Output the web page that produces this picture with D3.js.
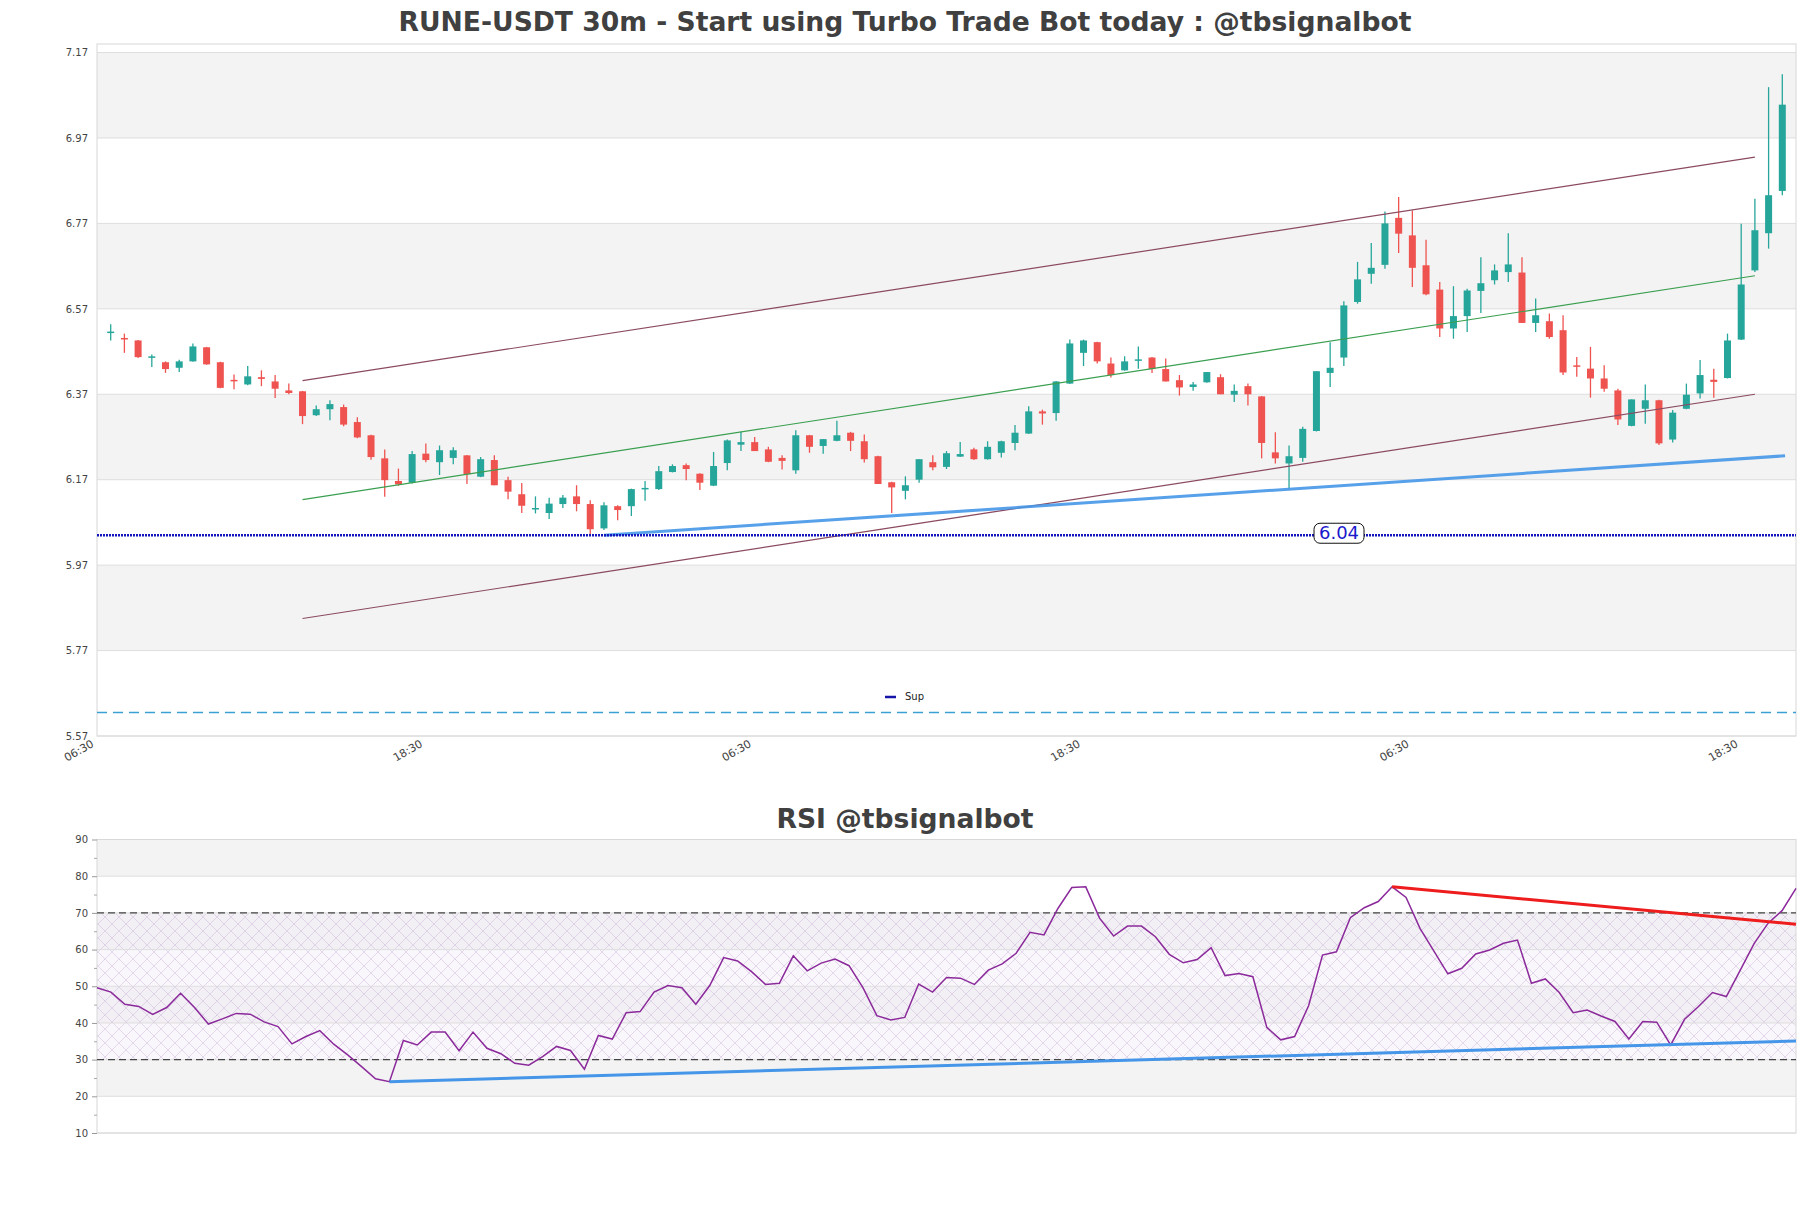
<!DOCTYPE html>
<html><head><meta charset="utf-8">
<script src="https://cdn.jsdelivr.net/npm/d3@7"></script>
<style>body{margin:0;background:#fff;} svg{display:block;font-family:"DejaVu Sans",sans-serif;}</style>
</head><body><svg id="c" width="1811" height="1208"></svg>
<script>
// ---------- DATA ----------
const opens  = [6.512,6.500,6.496,6.454,6.445,6.432,6.447,6.480,6.445,6.402,6.393,6.410,6.400,6.379,6.377,6.321,6.335,6.340,6.305,6.274,6.220,6.167,6.163,6.231,6.211,6.221,6.227,6.177,6.216,6.169,6.136,6.100,6.092,6.113,6.131,6.113,6.056,6.108,6.108,6.146,6.148,6.188,6.204,6.184,6.156,6.209,6.252,6.258,6.241,6.221,6.192,6.274,6.249,6.261,6.280,6.260,6.225,6.164,6.144,6.170,6.211,6.200,6.224,6.241,6.218,6.233,6.256,6.278,6.330,6.326,6.395,6.467,6.492,6.442,6.426,6.447,6.456,6.429,6.403,6.387,6.398,6.410,6.369,6.389,6.365,6.234,6.208,6.221,6.284,6.420,6.456,6.586,6.652,6.673,6.783,6.742,6.672,6.615,6.524,6.553,6.612,6.637,6.656,6.655,6.537,6.541,6.520,6.436,6.430,6.407,6.379,6.296,6.336,6.356,6.264,6.336,6.372,6.404,6.408,6.498,6.660,6.747,6.846];
const highs  = [6.534,6.512,6.497,6.463,6.447,6.451,6.489,6.481,6.446,6.416,6.436,6.426,6.415,6.395,6.378,6.344,6.356,6.346,6.316,6.275,6.241,6.196,6.237,6.255,6.250,6.246,6.228,6.223,6.227,6.177,6.162,6.131,6.128,6.134,6.157,6.122,6.117,6.110,6.149,6.167,6.202,6.206,6.208,6.185,6.235,6.264,6.282,6.270,6.247,6.227,6.286,6.275,6.265,6.308,6.282,6.276,6.226,6.165,6.178,6.218,6.227,6.237,6.258,6.245,6.260,6.261,6.298,6.342,6.334,6.401,6.498,6.498,6.493,6.456,6.459,6.482,6.457,6.454,6.415,6.399,6.422,6.417,6.393,6.395,6.366,6.281,6.250,6.294,6.424,6.492,6.588,6.680,6.724,6.798,6.832,6.800,6.732,6.633,6.623,6.617,6.691,6.674,6.747,6.691,6.594,6.559,6.555,6.457,6.481,6.438,6.383,6.358,6.393,6.357,6.333,6.395,6.450,6.430,6.512,6.769,6.828,7.089,7.119];
const lows   = [6.496,6.467,6.455,6.434,6.420,6.422,6.446,6.439,6.384,6.382,6.391,6.389,6.361,6.370,6.300,6.319,6.309,6.295,6.267,6.217,6.130,6.156,6.161,6.211,6.181,6.206,6.160,6.176,6.157,6.124,6.092,6.091,6.078,6.104,6.096,6.039,6.052,6.075,6.085,6.121,6.146,6.187,6.169,6.146,6.155,6.192,6.237,6.237,6.211,6.194,6.184,6.233,6.231,6.260,6.237,6.210,6.160,6.092,6.124,6.163,6.192,6.195,6.223,6.216,6.217,6.222,6.239,6.277,6.299,6.308,6.394,6.436,6.442,6.409,6.425,6.430,6.420,6.400,6.367,6.378,6.397,6.370,6.352,6.344,6.220,6.208,6.149,6.212,6.283,6.387,6.436,6.582,6.629,6.664,6.701,6.621,6.602,6.504,6.500,6.516,6.560,6.627,6.633,6.537,6.516,6.500,6.415,6.411,6.362,6.376,6.298,6.295,6.301,6.251,6.257,6.335,6.360,6.362,6.407,6.497,6.656,6.711,6.836];
const closes = [6.515,6.497,6.457,6.457,6.429,6.447,6.482,6.440,6.385,6.400,6.412,6.406,6.383,6.373,6.319,6.335,6.347,6.299,6.269,6.223,6.169,6.159,6.230,6.216,6.239,6.239,6.183,6.218,6.157,6.142,6.109,6.102,6.114,6.128,6.113,6.054,6.110,6.099,6.148,6.149,6.190,6.202,6.195,6.163,6.202,6.262,6.258,6.237,6.212,6.214,6.274,6.247,6.265,6.274,6.261,6.218,6.160,6.152,6.157,6.218,6.199,6.232,6.230,6.218,6.247,6.260,6.280,6.330,6.325,6.400,6.489,6.496,6.447,6.415,6.447,6.450,6.429,6.400,6.386,6.393,6.422,6.370,6.378,6.370,6.256,6.220,6.225,6.289,6.424,6.432,6.578,6.639,6.666,6.770,6.746,6.666,6.604,6.524,6.553,6.613,6.630,6.660,6.674,6.537,6.555,6.504,6.421,6.434,6.407,6.383,6.311,6.358,6.356,6.255,6.327,6.369,6.415,6.399,6.496,6.627,6.754,6.836,7.048];

const rsi = [49.6,48.4,45.1,44.5,42.3,44.2,48.1,44.2,39.7,41.1,42.6,42.4,40.3,39.0,34.3,36.3,37.9,34.2,31.3,28.1,24.8,24.0,35.2,34.0,37.5,37.5,32.4,37.5,33.1,31.6,29.0,28.5,30.8,33.6,32.5,27.4,36.6,35.6,42.8,43.1,48.4,50.2,49.6,45.1,50.2,57.8,56.9,54.0,50.5,50.8,58.3,54.2,56.3,57.4,55.6,49.6,42.0,40.8,
41.5,50.6,48.4,52.4,52.2,50.5,54.4,56.1,59.0,64.7,64.0,71.2,76.9,77.1,68.5,63.7,66.4,66.4,63.5,58.7,56.4,57.3,60.5,52.9,53.5,52.6,38.8,35.4,36.3,44.7,58.5,59.4,68.7,71.4,73.1,77.1,74.2,65.8,59.6,53.4,54.9,58.8,59.9,61.7,62.6,50.8,52.0,48.3,42.8,43.5,41.9,40.4,35.6,40.4,40.2,34.0,41.0,44.5,48.3,47.2,54.4,61.7,67.2,70.6,76.7];

const yTicks = [5.57,5.77,5.97,6.17,6.37,6.57,6.77,6.97,7.17];
const xTickIdx = [-1,23,47,71,95,119];
const xTickLabels = ["06:30","18:30","06:30","18:30","06:30","18:30"];
const rsiTicks = [10,20,30,40,50,60,70,80,90];
const rsiMinor = [15,25,35,45,55,65,75,85];

// trend lines [index, value]
const channelUpper = [[14,6.402],[120,6.925]];
const channelLower = [[14,5.845],[120,6.370]];
const channelMid   = [[14,6.1235],[120,6.6475]];
const supportLine  = [[36,6.040],[122.2,6.226]];
const supLevel = 6.04;
const dashLevel = 5.625;
const rsiResist = [[93,77.1],[122,66.9]];
const rsiSupport = [[21,24.0],[122,35.1]];

const title1 = "RUNE-USDT 30m - Start using Turbo Trade Bot today : @tbsignalbot";
const title2 = "RSI @tbsignalbot";

// ---------- LAYOUT ----------
const svg = d3.select('#c');
const L = 97, R = 1796;
const mTop = 44, mBot = 736;
const rTop = 839.5, rBot = 1133;
const CX = 905;

const x = d3.scaleLinear().domain([-1,123]).range([L,R]);
const y = d3.scaleLinear().domain([5.57,7.19]).range([mBot,mTop]);
const xr = d3.scaleLinear().domain([0,rsi.length-1]).range([L,R]);
const yr = d3.scaleLinear().domain([10,90]).range([rBot,rTop]);

const defs = svg.append('defs');
const pat = defs.append('pattern').attr('id','hatch').attr('patternUnits','userSpaceOnUse')
  .attr('width',14).attr('height',14);
pat.append('path').attr('d','M0,0 L14,14 M14,0 L0,14 M-3,11 L3,17 M11,-3 L17,3 M-3,3 L3,-3 M11,17 L17,11')
  .attr('stroke','#c6afd6').attr('stroke-width',0.6).attr('fill','none').attr('opacity',0.75);

// Titles
svg.append('text').attr('x',CX).attr('y',23).attr('text-anchor','middle').attr('dominant-baseline','middle')
  .attr('font-size',26.6).attr('font-weight','bold').attr('fill','#404040').text(title1);
svg.append('text').attr('x',CX).attr('y',820).attr('text-anchor','middle').attr('dominant-baseline','middle')
  .attr('font-size',26.6).attr('font-weight','bold').attr('fill','#404040').text(title2);

// ---------- MAIN ----------
const gm = svg.append('g');
const bands = d3.pairs(yTicks);
gm.selectAll('rect.band').data(bands).join('rect')
  .attr('x',L).attr('width',R-L)
  .attr('y',d=>y(d[1])).attr('height',d=>y(d[0])-y(d[1]))
  .attr('fill',(d,i)=> i%2===1 ? '#f3f3f3' : '#ffffff');
gm.selectAll('line.grid').data(yTicks).join('line')
  .attr('x1',L).attr('x2',R).attr('y1',d=>y(d)).attr('y2',d=>y(d))
  .attr('stroke','#dedede').attr('stroke-width',1);
gm.append('rect').attr('x',L).attr('y',mTop).attr('width',R-L).attr('height',mBot-mTop)
  .attr('fill','none').attr('stroke','#d8d8d8');

// y axis
const yAxis = d3.axisLeft(y).tickValues(yTicks).tickFormat(d3.format('.2f')).tickSize(0).tickPadding(9);
const ya = svg.append('g').attr('transform',`translate(${L},0)`).call(yAxis);
ya.select('.domain').remove();
ya.selectAll('text').attr('font-size',10).attr('fill','#444').attr('font-family','DejaVu Sans');

// x axis
const xAxis = d3.axisBottom(x).tickValues(xTickIdx).tickFormat((d,i)=>xTickLabels[i]).tickSize(0);
const xa = svg.append('g').attr('transform',`translate(0,${mBot})`).call(xAxis);
xa.select('.domain').remove();
xa.selectAll('text').attr('font-size',11).attr('fill','#444').attr('font-family','DejaVu Sans')
  .attr('text-anchor','end').attr('dy',0).attr('y',0)
  .attr('transform','translate(-3,10) rotate(-30)');

// dashed level
gm.append('line').attr('x1',L).attr('x2',R).attr('y1',y(dashLevel)).attr('y2',y(dashLevel))
  .attr('stroke','#3a9fd6').attr('stroke-width',1.3).attr('stroke-dasharray','10,6');

// candles
const idx = d3.range(opens.length);
const up = i => closes[i] >= opens[i];
const cg = gm.append('g');
cg.selectAll('line.wick').data(idx).join('line')
  .attr('x1',i=>x(i)).attr('x2',i=>x(i)).attr('y1',i=>y(highs[i])).attr('y2',i=>y(lows[i]))
  .attr('stroke',i=>up(i)?'#26a69a':'#ef5350').attr('stroke-width',1.3);
const bw = 7;
cg.selectAll('rect.body').data(idx).join('rect')
  .attr('x',i=>x(i)-bw/2).attr('width',bw)
  .attr('y',i=>Math.min(y(opens[i]),y(closes[i])) - (Math.abs(y(opens[i])-y(closes[i]))<1.5?0.75:0))
  .attr('height',i=>Math.max(1.5,Math.abs(y(opens[i])-y(closes[i]))))
  .attr('fill',i=>up(i)?'#26a69a':'#ef5350');

// trend lines
const lineM = d3.line().x(d=>x(d[0])).y(d=>y(d[1]));
gm.append('path').attr('d',lineM(channelUpper)).attr('stroke','#8b4a60').attr('stroke-width',1.2).attr('fill','none');
gm.append('path').attr('d',lineM(channelLower)).attr('stroke','#8b4a60').attr('stroke-width',1.2).attr('fill','none');
gm.append('path').attr('d',lineM(channelMid)).attr('stroke','#3a9f50').attr('stroke-width',1.2).attr('fill','none');
gm.append('path').attr('d',lineM(supportLine)).attr('stroke','#4596e8').attr('stroke-width',3).attr('fill','none').attr('opacity',0.9);

// support level dotted
gm.append('line').attr('x1',L).attr('x2',R).attr('y1',y(supLevel)).attr('y2',y(supLevel))
  .attr('stroke','#1515c0').attr('stroke-width',2.5).attr('stroke-dasharray','2,1');
const lx = 1339, ly = y(supLevel) - 2;
gm.append('rect').attr('x',lx-25).attr('y',ly-10).attr('width',50).attr('height',20).attr('rx',6)
  .attr('fill','#fff').attr('stroke','#111').attr('stroke-width',1);
gm.append('text').attr('x',lx).attr('y',ly+1).attr('text-anchor','middle').attr('dominant-baseline','middle')
  .attr('font-size',18).attr('fill','#1a1acc').text(supLevel.toFixed(2));

// legend
gm.append('line').attr('x1',885).attr('x2',896).attr('y1',697).attr('y2',697).attr('stroke','#1515a8').attr('stroke-width',2.5);
gm.append('text').attr('x',905).attr('y',697).attr('dominant-baseline','middle').attr('font-size',10).attr('fill','#222').text('Sup');

// ---------- RSI ----------
const gr = svg.append('g');
const rb = d3.pairs(rsiTicks);
gr.selectAll('rect.band').data(rb).join('rect')
  .attr('x',L).attr('width',R-L)
  .attr('y',d=>yr(d[1])).attr('height',d=>yr(d[0])-yr(d[1]))
  .attr('fill',(d,i)=> i%2===1 ? '#f3f3f3' : '#ffffff');
gr.append('rect').attr('x',L).attr('width',R-L).attr('y',yr(70)).attr('height',yr(30)-yr(70))
  .attr('fill','#f4eef8').attr('opacity',0.45);
gr.append('rect').attr('x',L).attr('width',R-L).attr('y',yr(70)).attr('height',yr(30)-yr(70))
  .attr('fill','url(#hatch)');
gr.selectAll('line.grid').data(rsiTicks).join('line')
  .attr('x1',L).attr('x2',R).attr('y1',d=>yr(d)).attr('y2',d=>yr(d))
  .attr('stroke','#dedede');
gr.append('rect').attr('x',L).attr('y',rTop).attr('width',R-L).attr('height',rBot-rTop)
  .attr('fill','none').attr('stroke','#d8d8d8');
[70,30].forEach(v=>{
  gr.append('line').attr('x1',L).attr('x2',R).attr('y1',yr(v)).attr('y2',yr(v))
    .attr('stroke','#444').attr('stroke-width',1.2).attr('stroke-dasharray','7,4');
});
const ra = svg.append('g').attr('transform',`translate(${L},0)`)
  .call(d3.axisLeft(yr).tickValues(rsiTicks).tickSize(5).tickPadding(4));
ra.select('.domain').remove();
ra.selectAll('line').attr('stroke','#999');
ra.selectAll('text').attr('font-size',10).attr('fill','#444').attr('font-family','DejaVu Sans');
const rm = svg.append('g').attr('transform',`translate(${L},0)`)
  .call(d3.axisLeft(yr).tickValues(rsiMinor).tickSize(3).tickFormat(''));
rm.select('.domain').remove();
rm.selectAll('line').attr('stroke','#aaa');

const lineR = d3.line().x((d,i)=>xr(i)).y(d=>yr(d));
gr.append('path').datum(rsi).attr('d',lineR).attr('fill','none').attr('stroke','#8b2a9b').attr('stroke-width',1.5);
const lineR2 = d3.line().x(d=>xr(d[0])).y(d=>yr(d[1]));
gr.append('path').attr('d',lineR2(rsiSupport)).attr('stroke','#4596e8').attr('stroke-width',3).attr('fill','none');
gr.append('path').attr('d',lineR2(rsiResist)).attr('stroke','#ee1c1c').attr('stroke-width',3).attr('fill','none');
</script></body></html>
